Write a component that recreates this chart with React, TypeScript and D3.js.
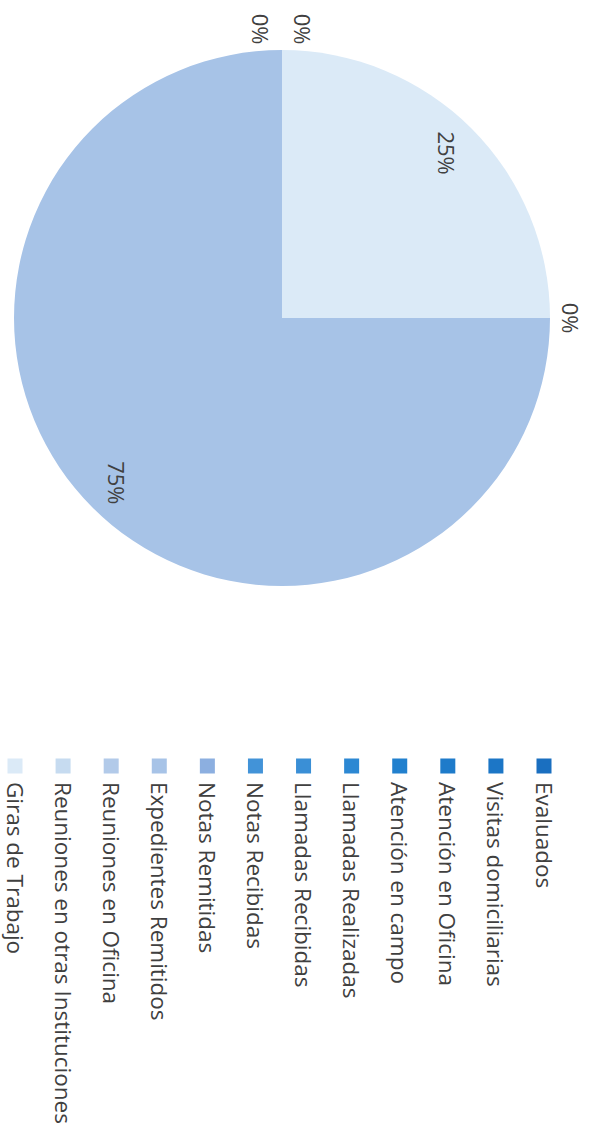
import React from "react";
import * as d3 from "d3";

const categories = [
  "Evaluados",
  "Visitas domiciliarias",
  "Atención en Oficina",
  "Atención en campo",
  "Llamadas Realizadas",
  "Llamadas Recibidas",
  "Notas Recibidas",
  "Notas Remitidas",
  "Expedientes Remitidos",
  "Reuniones en Oficina",
  "Reuniones en otras Instituciones",
  "Giras de Trabajo",
];
const values = [0, 0, 0, 0, 0, 0, 0, 0, 3, 0, 0, 1];
const colors = [
  "#1a6fc0",
  "#1c76c6",
  "#1e7bca",
  "#2180ce",
  "#2c88d3",
  "#3a8fd6",
  "#4293d8",
  "#8cafe0",
  "#a7c3e7",
  "#b2cae9",
  "#c6dbf0",
  "#dbeaf7",
];

const W = 590;
const H = 1133;
const cx = 282;
const cy = 318;
const R = 268;
const textColor = "#404040";
const font = "'Open Sans', 'Noto Sans', sans-serif";

export default function App() {
  const total = d3.sum(values);
  const pie = d3
    .pie<number>()
    .sort(null)
    .startAngle(Math.PI / 2)
    .endAngle(Math.PI / 2 + 2 * Math.PI);
  const arcs = pie(values);
  const arc = d3.arc<d3.PieArcDatum<number>>().innerRadius(0).outerRadius(R);
  const fmt = d3.format(".0%");

  const zeroGroups = new Map<number, number[]>();
  arcs.forEach((a, i) => {
    if (a.value === 0) {
      const k = Math.round(a.startAngle * 1000);
      if (!zeroGroups.has(k)) zeroGroups.set(k, []);
      zeroGroups.get(k)!.push(i);
    }
  });

  const labels = arcs
    .map((a, i) => {
      const mid = (a.startAngle + a.endAngle) / 2;
      if (a.value > 0) {
        const r = R * 0.87;
        return { x: cx + r * Math.sin(mid), y: cy - r * Math.cos(mid), t: fmt(a.value / total), show: true };
      }
      const group = zeroGroups.get(Math.round(a.startAngle * 1000))!;
      const gi = group.indexOf(i);
      const spread = group.length === 2;
      const off = spread ? (gi - 0.5) * 42 : 0;
      const r = R + 21;
      const x = cx + r * Math.sin(mid) + off * Math.cos(mid);
      const y = cy - r * Math.cos(mid) + off * Math.sin(mid);
      return { x, y, t: fmt(0), show: spread || gi === 0 };
    })
    .filter((l) => l.show);

  const legendX = d3
    .scalePoint<string>()
    .domain(categories)
    .range([544, 15]);
  const legendY = 766;

  return (
    <svg
      width={W}
      height={H}
      style={{ position: "absolute", left: 0, top: 0, background: "#fff" }}
    >
      <g transform={`translate(${cx},${cy})`}>
        {arcs.map((a, i) =>
          a.value > 0 ? <path key={i} d={arc(a) || ""} fill={colors[i]} /> : null
        )}
      </g>
      {labels.map((l, i) => (
        <text
          key={i}
          transform={`translate(${l.x},${l.y}) rotate(90)`}
          textAnchor="middle"
          dominantBaseline="central"
          fontFamily={font}
          fontSize={22}
          fill={textColor}
        >
          {l.t}
        </text>
      ))}
      {categories.map((c, i) => {
        const x = legendX(c)!;
        return (
          <g key={c}>
            <rect x={x - 7.5} y={legendY - 7.5} width={15} height={15} fill={colors[i]} />
            <text
              transform={`translate(${x},${legendY + 16}) rotate(90)`}
              textAnchor="start"
              dominantBaseline="central"
              fontFamily={font}
              fontSize={22.5}
              fill={textColor}
            >
              {c}
            </text>
          </g>
        );
      })}
    </svg>
  );
}
